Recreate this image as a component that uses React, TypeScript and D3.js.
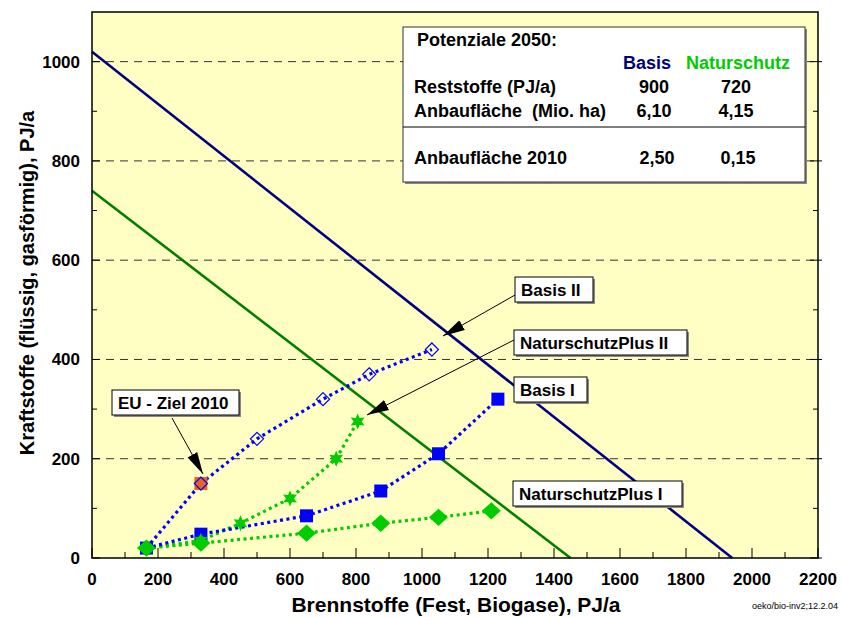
import * as d3 from "d3";

// Axis ticks
const xTicks = [0, 200, 400, 600, 800, 1000, 1200, 1400, 1600, 1800, 2000, 2200];
const xMinorTicks = [100, 300, 500, 700, 900, 1100, 1300, 1500, 1700, 1900, 2100];
const yTicks = [0, 200, 400, 600, 800, 1000];
const yMinorTicks = [100, 300, 500, 700, 900];
const yGrid = [200, 400, 600, 800, 1000];

// Potential limits 2050 (straight lines)
const basisLimit = [
  { x: 0, y: 1020 },
  { x: 1940, y: 0 },
];
const naturLimit = [
  { x: 0, y: 740 },
  { x: 1450, y: 0 },
];

// Scenario paths
const basisI = [
  { x: 165, y: 20 },
  { x: 330, y: 48 },
  { x: 650, y: 85 },
  { x: 875, y: 135 },
  { x: 1050, y: 210 },
  { x: 1230, y: 320 },
];
const basisII = [
  { x: 165, y: 20 },
  { x: 330, y: 150 },
  { x: 500, y: 240 },
  { x: 700, y: 320 },
  { x: 840, y: 370 },
  { x: 1030, y: 420 },
];
const naturPlusI = [
  { x: 165, y: 20 },
  { x: 330, y: 30 },
  { x: 650, y: 50 },
  { x: 875, y: 70 },
  { x: 1050, y: 82 },
  { x: 1210, y: 95 },
];
const naturPlusII = [
  { x: 165, y: 20 },
  { x: 330, y: 35 },
  { x: 450, y: 70 },
  { x: 600, y: 120 },
  { x: 740, y: 200 },
  { x: 805, y: 275 },
];
const euTarget = { x: 330, y: 150 };

// Info table
const tableHeader = "Potenziale 2050:";
const tableColumns = ["Basis", "Naturschutz"];
const tableRows = [
  { label: "Reststoffe (PJ/a)", values: ["900", "720"] },
  { label: "Anbaufläche  (Mio. ha)", values: ["6,10", "4,15"] },
];
const tableFooter = { label: "Anbaufläche 2010", values: ["2,50", "0,15"] };

const FONT = "'Liberation Sans', Arial, sans-serif";
const W = 842;
const H = 617;
const plot = { left: 92, right: 818, top: 12, bottom: 558 };

type Pt = { x: number; y: number };

function Callout({ x, y, w, text }: { x: number; y: number; w: number; text: string }) {
  return (
    <g>
      <rect x={x + 2} y={y + 2} width={w} height={25} fill="#888" />
      <rect x={x} y={y} width={w} height={25} fill="#fff" stroke="#000" strokeWidth={1} />
      <text x={x + 6} y={y + 19} fontSize={17} fontWeight="bold" fontFamily={FONT}>
        {text}
      </text>
    </g>
  );
}

export default function App() {
  const x = d3.scaleLinear().domain([0, 2200]).range([plot.left, plot.right]);
  const y = d3.scaleLinear().domain([0, 1100]).range([plot.bottom, plot.top]);
  const line = d3
    .line<Pt>()
    .x((d) => x(d.x))
    .y((d) => y(d.y));

  const square = (s: number) => d3.symbol(d3.symbolSquare, s * s)()!;
  const diamond = d3.symbol(d3.symbolDiamond2, 110)()!;
  const solidDiamond = d3.symbol(d3.symbolDiamond2, 190)()!;
  // six-pointed star built with a radial line
  const starPts: [number, number][] = d3.range(12).map((i) => [
    (i * Math.PI) / 6,
    i % 2 === 0 ? 8 : 4,
  ]);
  const star = d3.lineRadial().curve(d3.curveLinearClosed)(starPts)!;

  const dotted = { strokeWidth: 3.2, strokeDasharray: "3,3.5", fill: "none" };

  return (
    <svg
      width={W}
      height={H}
      style={{ position: "absolute", left: 0, top: 0, background: "#fff" }}
      fontFamily={FONT}
    >
      <defs>
        <marker id="arrowBig" viewBox="0 0 10 10" refX="10" refY="5" markerWidth="22" markerHeight="22" orient="auto" markerUnits="userSpaceOnUse">
          <path d="M0,2.5 L10,5 L0,7.5 Z" fill="#000" />
        </marker>
      </defs>

      {/* plot background */}
      <rect
        x={plot.left}
        y={plot.top}
        width={plot.right - plot.left}
        height={plot.bottom - plot.top}
        fill="#FFFFC4"
      />

      {/* grid */}
      {yGrid.map((t) => (
        <line
          key={"g" + t}
          x1={plot.left}
          x2={plot.right}
          y1={y(t)}
          y2={y(t)}
          stroke="#333"
          strokeWidth={1}
          strokeDasharray="8,6"
        />
      ))}

      {/* ticks */}
      {xTicks.map((t) => (
        <line key={"xt" + t} x1={x(t)} x2={x(t)} y1={plot.bottom} y2={plot.bottom - 10} stroke="#000" />
      ))}
      {xMinorTicks.map((t) => (
        <line key={"xm" + t} x1={x(t)} x2={x(t)} y1={plot.bottom} y2={plot.bottom - 6} stroke="#000" />
      ))}
      {yTicks.map((t) => (
        <g key={"yt" + t}>
          <line x1={plot.left} x2={plot.left + 8} y1={y(t)} y2={y(t)} stroke="#000" />
          <line x1={plot.right - 8} x2={plot.right + 4} y1={y(t)} y2={y(t)} stroke="#000" />
        </g>
      ))}
      {yMinorTicks.map((t) => (
        <g key={"ym" + t}>
          <line x1={plot.left} x2={plot.left + 5} y1={y(t)} y2={y(t)} stroke="#000" />
          <line x1={plot.right - 5} x2={plot.right} y1={y(t)} y2={y(t)} stroke="#000" />
        </g>
      ))}

      {/* limit lines */}
      <path d={line(naturLimit)!} stroke="#008000" strokeWidth={2.6} fill="none" />
      <path d={line(basisLimit)!} stroke="#000080" strokeWidth={2.6} fill="none" />

      {/* scenario paths */}
      <path d={line(naturPlusI)!} stroke="#00CC00" {...dotted} />
      <path d={line(naturPlusII)!} stroke="#00CC00" {...dotted} />
      <path d={line(basisI)!} stroke="#0000FF" {...dotted} />
      <path d={line(basisII)!} stroke="#0000FF" {...dotted} />

      {/* markers */}
      {basisI.map((d, i) => (
        <path key={"bi" + i} d={square(13)} transform={`translate(${x(d.x)},${y(d.y)})`} fill="#0000FF" />
      ))}
      <path d={square(13)} transform={`translate(${x(euTarget.x)},${y(euTarget.y)})`} fill="#E8641E" />
      {basisII.slice(1).map((d, i) => (
        <path
          key={"bii" + i}
          d={diamond}
          transform={`translate(${x(d.x)},${y(d.y)})`}
          fill="none"
          stroke="#0000FF"
          strokeWidth={1.2}
        />
      ))}
      {naturPlusII.slice(1).map((d, i) => (
        <path key={"npii" + i} d={star} transform={`translate(${x(d.x)},${y(d.y)})`} fill="#00CC00" />
      ))}
      {naturPlusI.map((d, i) => (
        <path
          key={"npi" + i}
          d={solidDiamond}
          transform={`translate(${x(d.x)},${y(d.y)}) scale(1.1,1)`}
          fill="#00CC00"
        />
      ))}

      {/* frame */}
      <rect
        x={plot.left}
        y={plot.top}
        width={plot.right - plot.left}
        height={plot.bottom - plot.top}
        fill="none"
        stroke="#000"
        strokeWidth={1.5}
      />

      {/* tick labels */}
      {xTicks.map((t) => (
        <text key={"xl" + t} x={x(t)} y={585} textAnchor="middle" fontSize={17} fontWeight="bold">
          {t}
        </text>
      ))}
      {yTicks.map((t) => (
        <text key={"yl" + t} x={80} y={y(t) + 6} textAnchor="end" fontSize={17} fontWeight="bold">
          {t}
        </text>
      ))}

      {/* axis titles */}
      <text x={456} y={612} textAnchor="middle" fontSize={21} fontWeight="bold">
        Brennstoffe (Fest, Biogase), PJ/a
      </text>
      <text
        transform={`translate(34,${(plot.top + plot.bottom) / 2 - 2}) rotate(-90)`}
        textAnchor="middle"
        fontSize={20}
        fontWeight="bold"
      >
        Kraftstoffe (flüssig, gasförmig), PJ/a
      </text>
      <text x={838} y={609} textAnchor="end" fontSize={9}>
        oeko/bio-inv2;12.2.04
      </text>

      {/* info table */}
      <g>
        <rect x={405} y={29} width={402} height={155} fill="#888" />
        <rect x={403} y={27} width={402} height={155} fill="#fff" stroke="#333" strokeWidth={1} />
        <text x={417} y={46} fontSize={18} fontWeight="bold">
          {tableHeader}
        </text>
        <text x={647} y={69} textAnchor="middle" fontSize={18} fontWeight="bold" fill="#000080">
          {tableColumns[0]}
        </text>
        <text x={738} y={69} textAnchor="middle" fontSize={18} fontWeight="bold" fill="#00CC00">
          {tableColumns[1]}
        </text>
        {tableRows.map((r, i) => (
          <g key={"tr" + i} fontSize={18} fontWeight="bold">
            <text x={414} y={93 + i * 24} style={{ whiteSpace: "pre" }}>
              {r.label}
            </text>
            <text x={654} y={93 + i * 24} textAnchor="middle">
              {r.values[0]}
            </text>
            <text x={736} y={93 + i * 24} textAnchor="middle">
              {r.values[1]}
            </text>
          </g>
        ))}
        <line x1={403} x2={805} y1={127} y2={127} stroke="#000" strokeWidth={1.2} />
        <g fontSize={18} fontWeight="bold">
          <text x={414} y={164}>
            {tableFooter.label}
          </text>
          <text x={657} y={164} textAnchor="middle">
            {tableFooter.values[0]}
          </text>
          <text x={738} y={164} textAnchor="middle">
            {tableFooter.values[1]}
          </text>
        </g>
      </g>

      {/* callouts */}
      <line x1={515} y1={295} x2={443} y2={336} stroke="#000" strokeWidth={1} markerEnd="url(#arrowBig)" />
      <line x1={514} y1={340} x2={367} y2={415} stroke="#000" strokeWidth={1} markerEnd="url(#arrowBig)" />
      <line x1={172} y1={418} x2={203} y2={474} stroke="#000" strokeWidth={1} markerEnd="url(#arrowBig)" />
      <Callout x={515} y={277} w={78} text="Basis II" />
      <Callout x={514} y={330} w={173} text="NaturschutzPlus II" />
      <Callout x={514} y={377} w={73} text="Basis I" />
      <Callout x={513} y={481} w={169} text="NaturschutzPlus I" />
      <Callout x={112} y={390} w={127} text="EU - Ziel 2010" />
    </svg>
  );
}
